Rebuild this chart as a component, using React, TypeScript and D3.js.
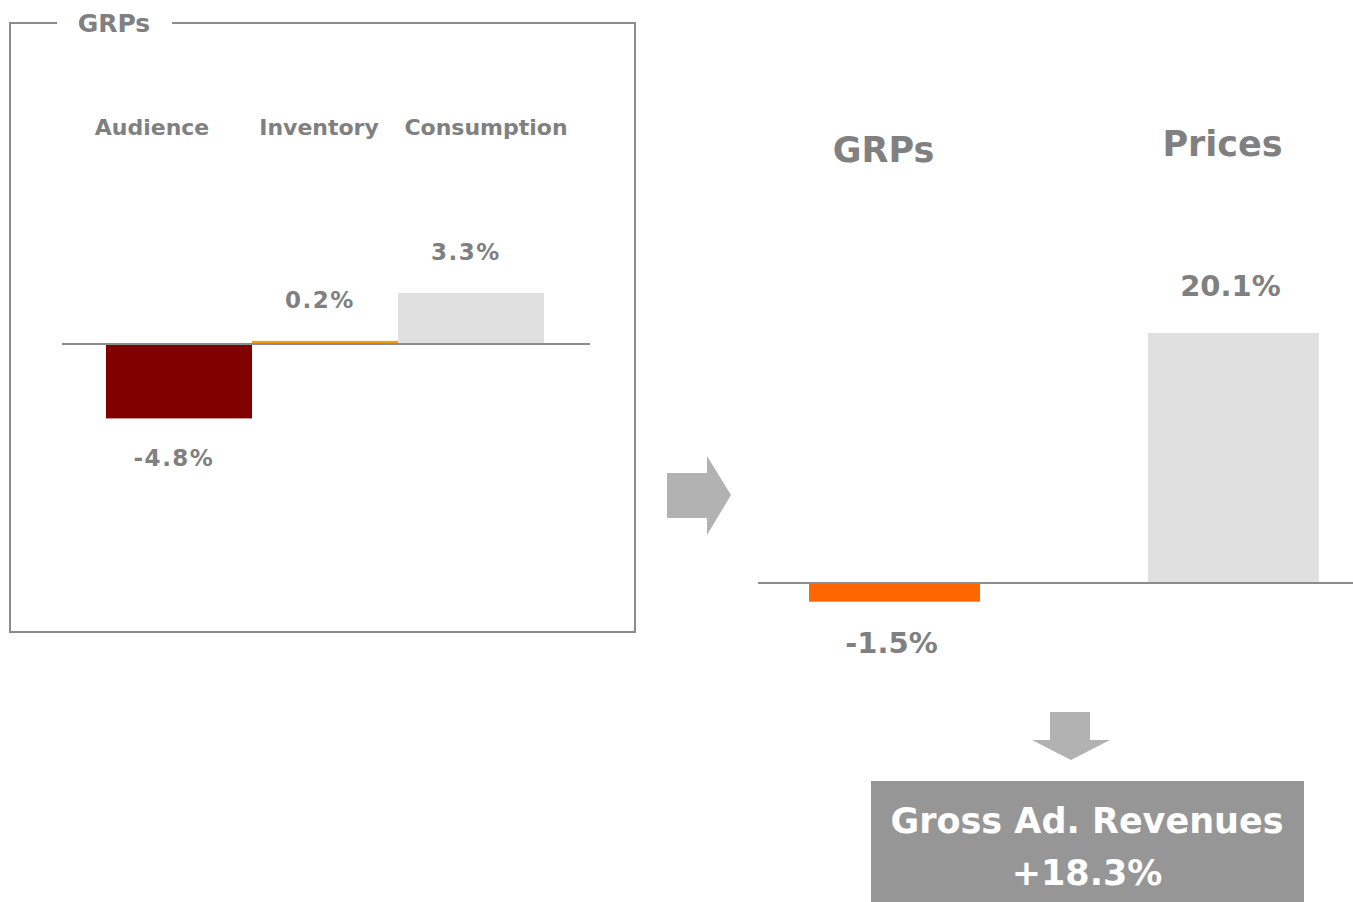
import React, { useEffect, useRef } from 'react';
import * as d3 from 'd3';

// left panel: GRPs breakdown
const grpCategories = ['Audience', 'Inventory', 'Consumption'];
const grpValues = [-4.8, 0.2, 3.3];
const grpLabels = ['-4.8%', '0.2%', '3.3%'];
const grpColors = ['#800000', '#FF9900', '#E0E0E0'];

// right panel: GRPs vs prices
const driverCategories = ['GRPs', 'Prices'];
const driverValues = [-1.5, 20.1];
const driverLabels = ['-1.5%', '20.1%'];
const driverColors = ['#FF6600', '#E0E0E0'];

const resultTitle = 'Gross Ad. Revenues';
const resultLabel = '+18.3%';

const FONT = '"DejaVu Sans", Verdana, sans-serif';
const TEXT = '#808080';

export default function App() {
  const ref = useRef<SVGSVGElement>(null);

  useEffect(() => {
    const svg = d3.select(ref.current);
    svg.selectAll('*').remove();

    // ---- left panel frame
    const frame = svg.append('g');
    frame.append('path')
      .attr('d', 'M57,23 H10 V632 H635 V23 H172')
      .attr('fill', 'none')
      .attr('stroke', '#8c8c8c')
      .attr('stroke-width', 2);
    frame.append('text')
      .attr('x', 114).attr('y', 32)
      .attr('text-anchor', 'middle')
      .attr('font-family', FONT).attr('font-weight', 'bold')
      .attr('font-size', 25).attr('fill', TEXT)
      .text('GRPs');

    const data = grpCategories.map((c, i) => ({ c, v: grpValues[i], label: grpLabels[i], color: grpColors[i] }));

    let x = d3.scaleBand().domain(grpCategories).range([106, 544]).padding(0);
    let y = d3.scaleLinear().domain([-5, 5]).range([421.5, 266.5]);
    let head = d3.scalePoint().domain(grpCategories).range([152, 486]);

    const left = svg.append('g');
    left.selectAll('text.cat')
      .data(data)
      .enter()
      .append('text')
      .attr('class', 'cat')
      .attr('x', d => head(d.c))
      .attr('y', 135)
      .attr('text-anchor', 'middle')
      .attr('font-family', FONT).attr('font-weight', 'bold')
      .attr('font-size', 22).attr('fill', TEXT)
      .text(d => d.c);

    left.selectAll('rect')
      .data(data)
      .enter()
      .append('rect')
      .attr('x', d => x(d.c))
      .attr('width', x.bandwidth())
      .attr('y', d => y(Math.max(0, d.v)))
      .attr('height', d => Math.abs(y(d.v) - y(0)))
      .attr('fill', d => d.color);

    left.append('line')
      .attr('x1', 62).attr('x2', 590)
      .attr('y1', y(0)).attr('y2', y(0))
      .attr('stroke', '#8c8c8c').attr('stroke-width', 2);

    left.selectAll('text.val')
      .data(data)
      .enter()
      .append('text')
      .attr('class', 'val')
      .attr('x', d => x(d.c) + x.bandwidth() / 2 - 5)
      .attr('y', d => d.v < 0 ? y(d.v) + 48 : y(d.v) - 33)
      .attr('text-anchor', 'middle')
      .attr('letter-spacing', 1.5)
      .attr('font-family', FONT).attr('font-weight', 'bold')
      .attr('font-size', 23).attr('fill', TEXT)
      .text(d => d.label);

    // ---- arrow to the right
    svg.append('path')
      .attr('d', 'M667,473 H707 V456 L731,495 L707,535 V518 H667 Z')
      .attr('fill', '#B2B2B2');

    // ---- right panel
    const data2 = driverCategories.map((c, i) => ({ c, v: driverValues[i], label: driverLabels[i], color: driverColors[i] }));
    let x2 = d3.scalePoint().domain(driverCategories).range([894.5, 1233.5]);
    let y2 = d3.scaleLinear().domain([0, 20.1]).range([583, 333]);
    const bw = 171;

    const right = svg.append('g');
    right.selectAll('rect')
      .data(data2)
      .enter()
      .append('rect')
      .attr('x', d => x2(d.c) - bw / 2)
      .attr('width', bw)
      .attr('y', d => y2(Math.max(0, d.v)))
      .attr('height', d => Math.abs(y2(d.v) - y2(0)))
      .attr('fill', d => d.color);

    right.append('line')
      .attr('x1', 758).attr('x2', 1353)
      .attr('y1', y2(0)).attr('y2', y2(0))
      .attr('stroke', '#8c8c8c').attr('stroke-width', 2);

    right.selectAll('text.cat')
      .data(data2)
      .enter()
      .append('text')
      .attr('class', 'cat')
      .attr('x', d => x2(d.c) - 11)
      .attr('y', (d, i) => i === 0 ? 162 : 156)
      .attr('text-anchor', 'middle')
      .attr('font-family', FONT).attr('font-weight', 'bold')
      .attr('font-size', 35).attr('fill', TEXT)
      .text(d => d.c);

    right.selectAll('text.val')
      .data(data2)
      .enter()
      .append('text')
      .attr('class', 'val')
      .attr('x', d => x2(d.c) - 3)
      .attr('y', d => d.v < 0 ? y2(d.v) + 51 : y2(d.v) - 37)
      .attr('text-anchor', 'middle')
      .attr('font-family', FONT).attr('font-weight', 'bold')
      .attr('font-size', 29).attr('fill', TEXT)
      .text(d => d.label);

    // ---- arrow down + result box
    svg.append('path')
      .attr('d', 'M1050,712 H1090 V740 H1110 L1071,760 L1032,740 H1050 Z')
      .attr('fill', '#B2B2B2');

    svg.append('rect')
      .attr('x', 871).attr('y', 781)
      .attr('width', 433).attr('height', 121)
      .attr('fill', '#969696');

    svg.append('text')
      .attr('x', 1087).attr('y', 833)
      .attr('text-anchor', 'middle')
      .attr('font-family', FONT).attr('font-weight', 'bold')
      .attr('font-size', 35).attr('fill', '#ffffff')
      .text(resultTitle);
    svg.append('text')
      .attr('x', 1087).attr('y', 885)
      .attr('text-anchor', 'middle')
      .attr('font-family', FONT).attr('font-weight', 'bold')
      .attr('font-size', 35).attr('fill', '#ffffff')
      .text(resultLabel);
  }, []);

  return (
    <svg
      ref={ref}
      width={1353}
      height={902}
      style={{ position: 'absolute', left: 0, top: 0, background: '#fff' }}
    />
  );
}
